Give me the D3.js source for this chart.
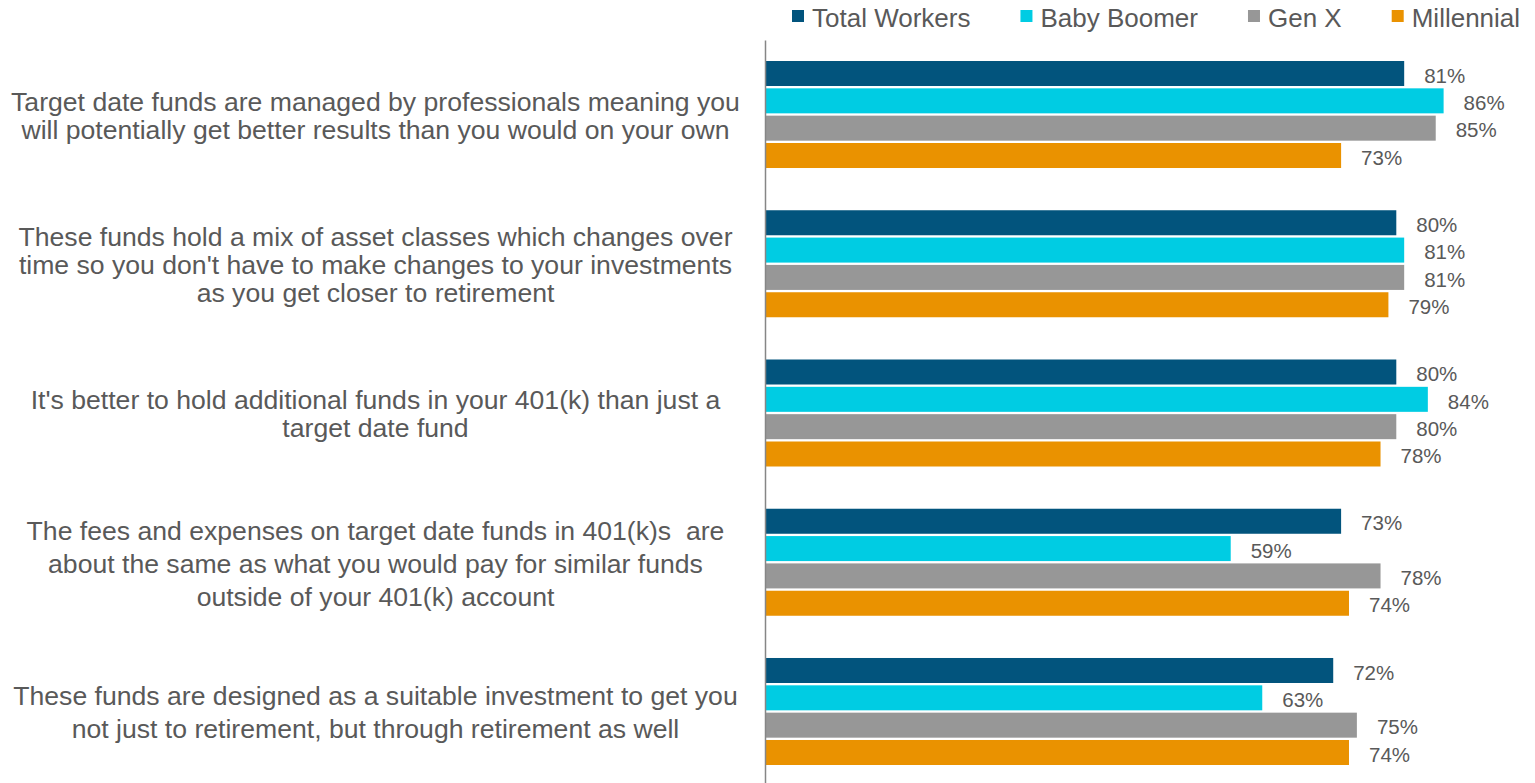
<!DOCTYPE html>
<html>
<head>
<meta charset="utf-8">
<script src="https://cdn.jsdelivr.net/npm/d3@7"></script>
<style>
body { margin: 0; background: #fff; }
text { font-family: "Liberation Sans", Arial, sans-serif; fill: #595959; white-space: pre; }
</style>
</head>
<body>
<svg id="chart" width="1535" height="783"></svg>
<script>
// categories, one array of lines each (wrapped as in the original)
var categories = [
	["Target date funds are managed by professionals meaning you",
	 "will potentially get better results than you would on your own"],
	["These funds hold a mix of asset classes which changes over",
	 "time so you don't have to make changes to your investments",
	 "as you get closer to retirement"],
	["It's better to hold additional funds in your 401(k) than just a",
	 "target date fund"],
	["The fees and expenses on target date funds in 401(k)s  are",
	 "about the same as what you would pay for similar funds",
	 "outside of your 401(k) account"],
	["These funds are designed as a suitable investment to get you",
	 "not just to retirement, but through retirement as well"]
];
var seriesNames = ["Total Workers", "Baby Boomer", "Gen X", "Millennial"];
var totalWorkers = [81, 80, 80, 73, 72];
var babyBoomer   = [86, 81, 84, 59, 63];
var genX         = [85, 81, 80, 78, 75];
var millennial   = [73, 79, 78, 74, 74];

var colors = ["#02547D", "#00CCE3", "#979797", "#EA9200"];
var series = [totalWorkers, babyBoomer, genX, millennial];

var svg = d3.select("#chart");

var x = d3.scaleLinear().domain([0, 100]).range([765.5, 1554]);
var y0 = d3.scaleBand().domain(d3.range(categories.length))
	.range([40, 786]).paddingInner(0.283).paddingOuter(0.1407);
var y1 = d3.scaleBand().domain(seriesNames)
	.range([0, y0.bandwidth()]).paddingInner(0.085);
var color = d3.scaleOrdinal().domain(seriesNames).range(colors);

// rows of {cat, name, value}
var rows = [];
categories.forEach(function(c, i){
	seriesNames.forEach(function(n, j){
		rows.push({cat: i, name: n, value: series[j][i]});
	});
});

var groups = svg.selectAll(".group").data(categories)
	.enter().append("g")
	.attr("class", "group")
	.attr("transform", function(d, i){ return "translate(0," + y0(i) + ")"; });

groups.selectAll("rect")
	.data(function(d, i){ return rows.filter(function(r){ return r.cat === i; }); })
	.enter().append("rect")
	.attr("x", x(0))
	.attr("y", function(d){ return y1(d.name); })
	.attr("width", function(d){ return x(d.value) - x(0); })
	.attr("height", y1.bandwidth())
	.style("fill", function(d){ return color(d.name); });

groups.selectAll(".val")
	.data(function(d, i){ return rows.filter(function(r){ return r.cat === i; }); })
	.enter().append("text")
	.attr("class", "val")
	.attr("x", function(d){ return x(d.value) + 20; })
	.attr("y", function(d){ return y1(d.name) + y1.bandwidth() / 2; })
	.attr("dy", "0.45em")
	.style("font-size", "20.5px")
	.text(function(d){ return d.value + "%"; });

// category labels, centered on the group
groups.each(function(lines, i){
	var lh = i < 3 ? 28 : 33;
	var mid = y0.bandwidth() / 2 + 1;
	var t = d3.select(this).append("text")
		.attr("text-anchor", "middle")
		.style("font-size", "26.6px");
	lines.forEach(function(line, k){
		t.append("tspan")
			.attr("x", 375.5)
			.attr("y", mid + (k - (lines.length - 1) / 2) * lh)
			.attr("dy", "0.35em")
			.text(line);
	});
});

// vertical axis line
var axis = svg.append("g")
	.attr("transform", "translate(765,0)")
	.call(d3.axisLeft(y0).tickSize(0).tickFormat(""));
axis.select(".domain").attr("stroke", "#868686").attr("stroke-width", 1.5);

// legend
var legend = svg.append("g").attr("class", "legend");
var lx = 792;
seriesNames.forEach(function(n){
	var item = legend.append("g").attr("transform", "translate(" + lx + ",0)");
	item.append("rect")
		.attr("x", 0).attr("y", 10)
		.attr("width", 12).attr("height", 12)
		.style("fill", color(n));
	var t = item.append("text")
		.attr("x", 20).attr("y", 27)
		.style("font-size", "26px")
		.text(n);
	lx += 20 + t.node().getComputedTextLength() + 50;
});
</script>
</body>
</html>
